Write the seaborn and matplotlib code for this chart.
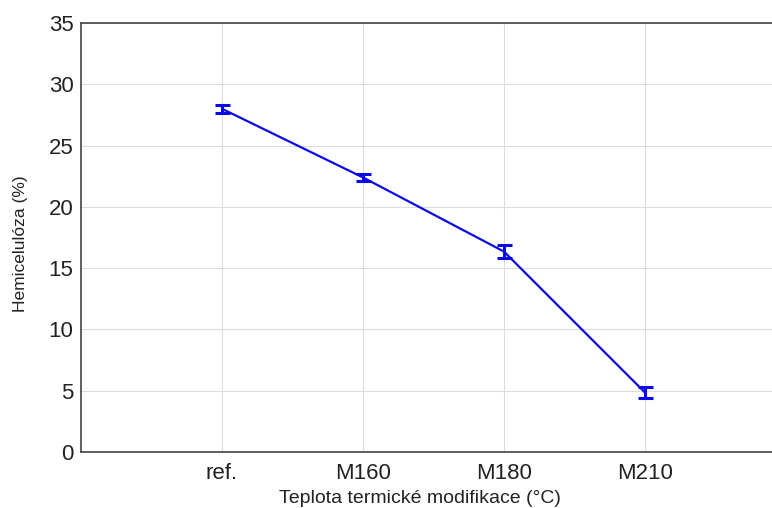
import matplotlib
matplotlib.use("Agg")
import matplotlib.pyplot as plt
import seaborn as sns
import pandas as pd

categories = ["ref.", "M160", "M180", "M210"]
values = [28.0, 22.4, 16.35, 4.85]
errors = [0.33, 0.3, 0.53, 0.45]

sns.set_style("white")
plt.rcParams['font.family'] = ['Liberation Sans', 'DejaVu Sans']

df = pd.DataFrame({"pos": range(len(categories)), "val": values, "err": errors})

fig = plt.figure(figsize=(7.72, 5.08), dpi=100)
ax = fig.add_axes([81/772, 1-452/508, (786-81)/772, (452-23)/508])

color = "#0a0ae6"
sns.lineplot(data=df, x="pos", y="val", ax=ax, color=color, linewidth=1.6, zorder=3)
ax.errorbar(df["pos"], df["val"], yerr=df["err"], fmt="none", ecolor=color,
            elinewidth=2.2, capsize=5.4, capthick=2.2, zorder=4)

ax.set_xlim(-1, 4)
ax.set_ylim(0, 35)
ax.set_yticks(range(0, 36, 5))
ax.set_xticks(range(len(categories)))
ax.set_xticklabels(categories)
ax.grid(True, color="#dcdcdc", linewidth=0.8)
ax.set_axisbelow(True)
for s in ax.spines.values():
    s.set_color("#444444")
    s.set_linewidth(1.2)
ax.tick_params(axis="both", labelsize=16, colors="#222222", width=0.8)
ax.tick_params(axis="x", direction="in", length=3, pad=8)
ax.tick_params(axis="y", direction="out", length=2, pad=3.5, color="#bbbbbb")
ax.set_xlabel("Teplota termické modifikace (°C)", fontsize=14, color="#222222", va="top")
ax.set_ylabel("Hemicelulóza (%)", fontsize=12.5, color="#222222")
ax.xaxis.set_label_coords((420-81)/(786-81), (452-490)/429)
ax.yaxis.set_label_coords((28-81)/705, (452-244)/429)

fig.savefig("out.png", dpi=100)
